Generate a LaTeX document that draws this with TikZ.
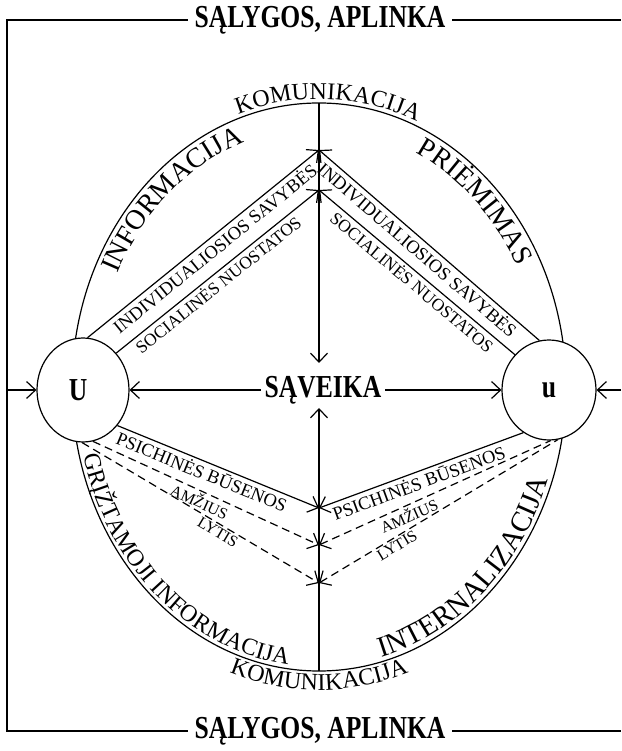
\documentclass[tikz,border=0pt]{standalone}
\usepackage{fontspec}
\setmainfont{Liberation Serif}
\newfontfamily\condserif[FakeStretch=0.8]{Liberation Serif}
\usetikzlibrary{arrows.meta, shapes.geometric, decorations.text, positioning}
\newcommand{\envfont}{\condserif\bfseries\fontsize{32}{33}\selectfont}
\newcommand{\arcbig}{\fontsize{28}{28}\selectfont}
\newcommand{\archuge}{\fontsize{29}{29}\selectfont}
\newcommand{\arcmid}{\fontsize{24}{24}\selectfont}
\newcommand{\lblfont}{\fontsize{18.5}{18.5}\selectfont}
\newcommand{\lblmid}{\fontsize{17.5}{17.5}\selectfont}
\newcommand{\lblsmall}{\fontsize{16}{16}\selectfont}
\tikzset{
  person/.style={draw, ellipse, fill=white, inner sep=0pt, font=\envfont},
  envlabel/.style={font=\envfont, inner sep=6pt},
  onlink/.style={sloped, below, inner sep=2pt, font=\lblfont},
  dashlink/.style={dash pattern=on 8pt off 5pt}
}

\begin{document}
\begin{tikzpicture}[x=1pt, y=1pt, line width=1.2pt, >={Straight Barb[length=9pt,width=17pt]}]
  \useasboundingbox (-319,-364) rectangle (302,387);
  % environment frame
  \node[envlabel] (topenv) at (1,367) {SĄLYGOS, APLINKA};
  \node[envlabel] (botenv) at (1,-344) {SĄLYGOS, APLINKA};
  \coordinate (tl) at (-312,367);
  \coordinate (bl) at (-312,-344);
  \coordinate (tr) at (302,367);
  \coordinate (br) at (302,-344);
  \draw[line width=1.6pt] (topenv.west) -- (tl) -- (bl) -- (botenv.west);
  \draw[line width=1.6pt] (topenv.east) -- (tr);
  \draw[line width=1.6pt] (botenv.east) -- (br);
  % big ellipse and the two persons
  \draw (0,0) ellipse [x radius=247, y radius=284];
  \node[person, minimum width=92pt, minimum height=104pt] (ugdytojas) at (-236,-3) {};
  \node[font=\envfont] at (-241,-3) {U};
  \node[person, minimum width=94pt, minimum height=100pt] (ugdytinis) at (230,-3) {u};
  \node[font=\envfont] (saveika) at (4,-3) {SĄVEIKA};
  \draw[->] (saveika) -- (ugdytojas);
  \draw[->] (saveika) -- (ugdytinis);
  \coordinate (lframe) at (-312,-3);
  \coordinate (rframe) at (302,-3);
  \draw[->] (lframe) -- (ugdytojas);
  \draw[->] (rframe) -- (ugdytinis);
  % vertical axis
  \coordinate (axtop) at (0,284);
  \coordinate (axbot) at (0,-284);
  \coordinate (axup) at (0,24);
  \coordinate (axdn) at (0,-21);
  \draw[->] (axtop) -- (axup);
  \draw[->] (axbot) -- (axdn);
  \coordinate (p1) at (0,237);
  \coordinate (p2) at (0,197);
  \coordinate (q1) at (0,-121);
  \coordinate (q2) at (0,-158);
  \coordinate (q3) at (0,-196);
  % upper links
  \draw[->] (ugdytojas.85) -- (p1) node[onlink, pos=0.52]{INDIVIDUALIOSIOS SAVYBĖS};
  \draw[->] (ugdytojas.48) -- (p2) node[onlink, pos=0.47, font=\lblmid]{SOCIALINĖS NUOSTATOS};
  \draw[<-] (p1) -- (ugdytinis.101) node[onlink, pos=0.48]{INDIVIDUALIOSIOS SAVYBĖS};
  \draw[<-] (p2) -- (ugdytinis.134) node[onlink, pos=0.51, font=\lblmid]{SOCIALINĖS NUOSTATOS};
  % lower links
  \draw[->] (ugdytojas.-46) -- (q1) node[onlink, pos=0.44]{PSICHINĖS BŪSENOS};
  \draw[->, dashlink] (ugdytojas.-79) -- (q2) node[onlink, pos=0.49, font=\lblsmall]{AMŽIUS};
  \draw[->, dashlink] (ugdytojas.-91) -- (q3) node[onlink, pos=0.59, font=\lblsmall]{LYTIS};
  \draw[<-] (q1) -- (ugdytinis.-121) node[onlink, pos=0.47]{PSICHINĖS BŪSENOS};
  \draw[<-, dashlink] (q2) -- (ugdytinis.-88) node[onlink, pos=0.37, font=\lblsmall]{AMŽIUS};
  \draw[<-, dashlink] (q3) -- (ugdytinis.-80) node[onlink, pos=0.31, font=\lblsmall]{LYTIS};
  % texts along the ellipse
  \path[decorate, decoration={text along path, text align=center,
    text={|\arcmid|KOMUNIKACIJA}}] (126:251 and 288) arc[start angle=126, end angle=50, x radius=251, y radius=288];
  \path[decorate, decoration={text along path, text align=center,
    text={|\arcbig|INFORMACIJA}}] (166:224 and 260) arc[start angle=166, end angle=96, x radius=224, y radius=260];
  \path[decorate, decoration={text along path, text align=center,
    text={|\arcbig|PRIĖMIMAS}}] (82:224 and 260) arc[start angle=82, end angle=12, x radius=224, y radius=260];
  \path[decorate, decoration={text along path, text align=center,
    text={|\arcmid|GRĮŽTAMOJI INFORMACIJA}}] (186:243 and 280) arc[start angle=186, end angle=272, x radius=243, y radius=280];
  \path[decorate, decoration={text along path, text align=center,
    text={|\archuge|INTERNALIZACIJA}}] (272:243 and 280) arc[start angle=272, end angle=352, x radius=243, y radius=280];
  \path[decorate, decoration={text along path, text align=center,
    text={|\arcmid|KOMUNIKACIJA}}] (238:266 and 303) arc[start angle=238, end angle=302, x radius=266, y radius=303];
\end{tikzpicture}
\end{document}
